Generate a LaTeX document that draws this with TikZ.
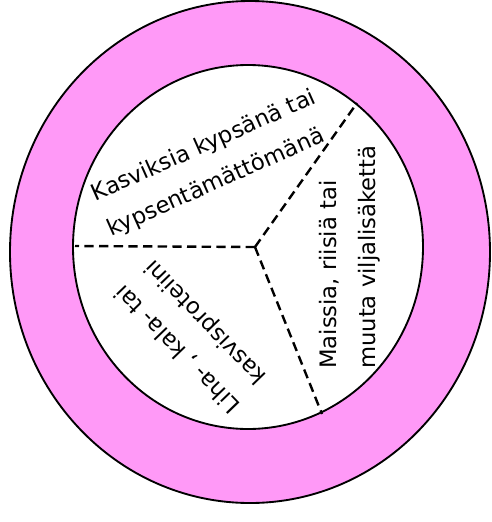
\documentclass[tikz,border=0pt]{standalone}
\usepackage{fontspec}
\setmainfont{DejaVu Sans}
\definecolor{ringpink}{RGB}{255,153,247}
\begin{document}
\begin{tikzpicture}[x=0.75pt,y=-0.75pt,
  ring/.style={draw=black,line width=1.4pt},
  spoke/.style={draw=black,line width=1.8pt,dash pattern=on 7pt off 4pt},
  lbl/.style={inner sep=0pt,font=\fontsize{17}{29}\selectfont}]
\useasboundingbox (0,0) rectangle (492,522);
\fill[ringpink,ring] (250,252) ellipse [x radius=240,y radius=251];
\fill[white,ring] (248,247) ellipse [x radius=175,y radius=182];
\coordinate (c) at (255,247);
\coordinate (pl) at (75,246);
\coordinate (pu) at (357,103);
\coordinate (pd) at (322,414);
\draw[spoke] (c) -- (pl);
\draw[spoke] (c) -- (pu);
\draw[spoke] (c) -- (pd);
\node[lbl,rotate=24,align=left] (t1) at (212,164) {Kasviksia kypsänä tai\\kypsentämättömänä};
\node[lbl,rotate=90,align=left,anchor=west] (t2) at (350,369) {Maissia, riisiä tai\\muuta viljalisäkettä};
\node[lbl,rotate=134,align=center] (t3) at (192,335) {Liha- , kala- tai\\kasvisproteiini};
\end{tikzpicture}
\end{document}
